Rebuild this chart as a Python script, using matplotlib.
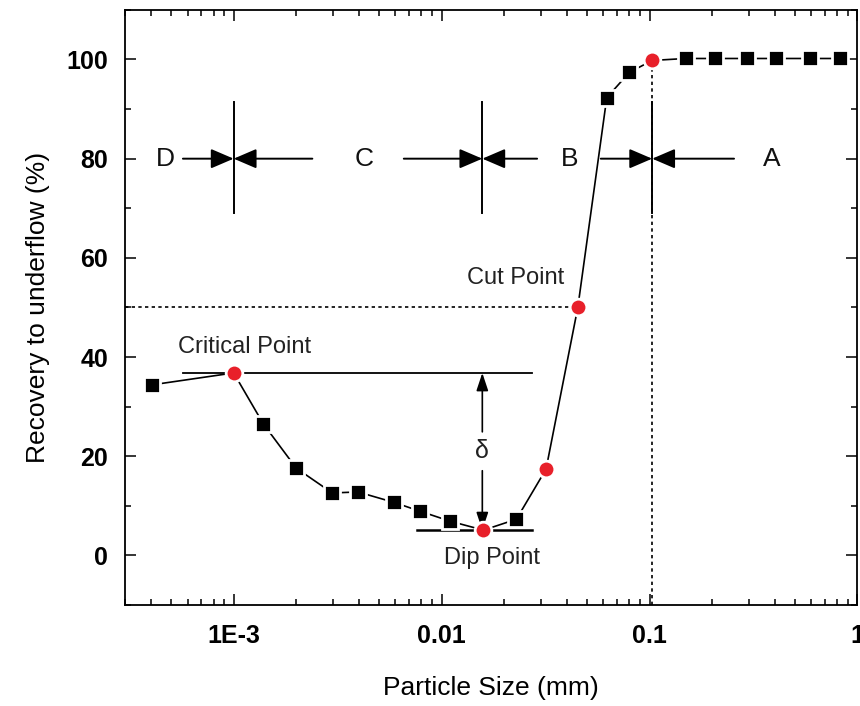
import matplotlib.pyplot as plt

plt.rcParams['font.family'] = ['Liberation Sans', 'DejaVu Sans']

# data
size_mm = [4.05e-4, 1.0e-3, 1.39e-3, 2.0e-3, 2.98e-3, 3.96e-3, 5.9e-3, 7.9e-3,
           0.011, 0.0159, 0.0229, 0.0318, 0.0452, 0.0623, 0.080, 0.103,
           0.149, 0.207, 0.294, 0.405, 0.589, 0.82]
recovery = [34.4, 36.8, 26.5, 17.6, 12.6, 12.8, 10.7, 8.9,
            6.9, 5.1, 7.3, 17.4, 50.0, 92.3, 97.4, 99.8,
            100.2, 100.2, 100.2, 100.2, 100.2, 100.2]
is_key = [False, True, False, False, False, False, False, False,
          False, True, False, True, True, False, False, True,
          False, False, False, False, False, False]

critical = (1.0e-3, 36.8)
dip = (0.0159, 5.1)
cut = (0.0452, 50.0)
d100 = 0.103

zone_bounds = [1.0e-3, 0.0157, 0.103]
zone_left_start = [5.7e-4, 6.58e-3, 0.0583]
zone_right_start = [2.39e-3, 0.0288, 0.255]
zone_names = ['D', 'C', 'B', 'A']
zone_name_x = [4.68e-4, 4.24e-3, 0.0414, 0.388]

xticks = [1e-3, 0.01, 0.1, 1]
xticklabels = ['1E-3', '0.01', '0.1', '1']
yticks = [0, 20, 40, 60, 80, 100]

fig = plt.figure(figsize=(8.6, 7.06), dpi=100)
ax = fig.add_axes([0.1453, 0.143, 0.8517, 0.843])

ax.set_xscale('log')
ax.set_xlim(3.0e-4, 1.0)
ax.set_ylim(-10, 110)

# guide lines
ax.plot([3.0e-4, cut[0]], [cut[1], cut[1]], color='black', ls=(0, (2, 2)), lw=1.2)
ax.plot([d100, d100], [-10, 100], color='black', ls=(0, (2, 2)), lw=1.2)

# critical / dip reference lines and delta arrow
ax.plot([5.7e-4, 0.0272], [critical[1], critical[1]], color='black', lw=1.3)
ax.plot([7.6e-3, 0.0272], [dip[1], dip[1]], color='black', lw=1.8)
arrow_small = dict(arrowstyle='-|>,head_length=0.6,head_width=0.2', color='black',
                   lw=1.2, mutation_scale=18, shrinkB=0, shrinkA=14)
ax.annotate('', xy=(0.0157, critical[1]), xytext=(0.0157, 21), arrowprops=arrow_small)
ax.annotate('', xy=(0.0157, dip[1]), xytext=(0.0157, 21), arrowprops=arrow_small)
ax.text(0.0157, 21, '\u03b4', fontsize=18, ha='center', va='center', color='#222222')

# data curve
ax.plot(size_mm, recovery, color='black', lw=1.2, zorder=3)
for x, y, key in zip(size_mm, recovery, is_key):
    if key:
        ax.plot(x, y, 'o', ms=12, color='#e8202a', mec='white', mew=2, zorder=4)
    else:
        ax.plot(x, y, 's', ms=11, color='black', mec='white', mew=2, zorder=4)

# zone markers
arrow_zone = dict(arrowstyle='-|>,head_length=0.7,head_width=0.3', color='black',
                  lw=1.4, mutation_scale=20, shrinkA=0, shrinkB=0)
for b, ls_, rs in zip(zone_bounds, zone_left_start, zone_right_start):
    ax.plot([b, b], [69, 91.5], color='black', lw=1.4)
    ax.annotate('', xy=(b, 80), xytext=(ls_, 80), arrowprops=arrow_zone)
    ax.annotate('', xy=(b, 80), xytext=(rs, 80), arrowprops=arrow_zone)
for name, x in zip(zone_names, zone_name_x):
    ax.text(x, 80, name, fontsize=19, ha='center', va='center', color='#111111')

ax.text(5.4e-4, 42, 'Critical Point', fontsize=17, ha='left', va='center', color='#222222')
ax.text(0.0103, -0.5, 'Dip Point', fontsize=17, ha='left', va='center', color='#222222')
ax.text(0.0226, 56, 'Cut Point', fontsize=17, ha='center', va='center', color='#222222')

ax.set_xticks(xticks)
ax.set_xticklabels(xticklabels)
ax.set_yticks(yticks)
ax.set_yticks(range(-10, 111, 10), minor=True)
ax.tick_params(which='both', direction='in', top=True, right=True, width=1.1)
ax.tick_params(which='major', length=8, labelsize=18)
ax.tick_params(axis='x', which='major', pad=14)
ax.tick_params(axis='y', which='major', pad=12)
ax.tick_params(which='minor', length=4)
for lab in ax.get_xticklabels() + ax.get_yticklabels():
    lab.set_fontweight('bold')
for s in ax.spines.values():
    s.set_linewidth(1.3)

ax.set_xlabel('Particle Size (mm)', fontsize=19, labelpad=20)
ax.set_ylabel('Recovery to underflow (%)', fontsize=19, labelpad=12)

fig.savefig('out.png', dpi=100)
